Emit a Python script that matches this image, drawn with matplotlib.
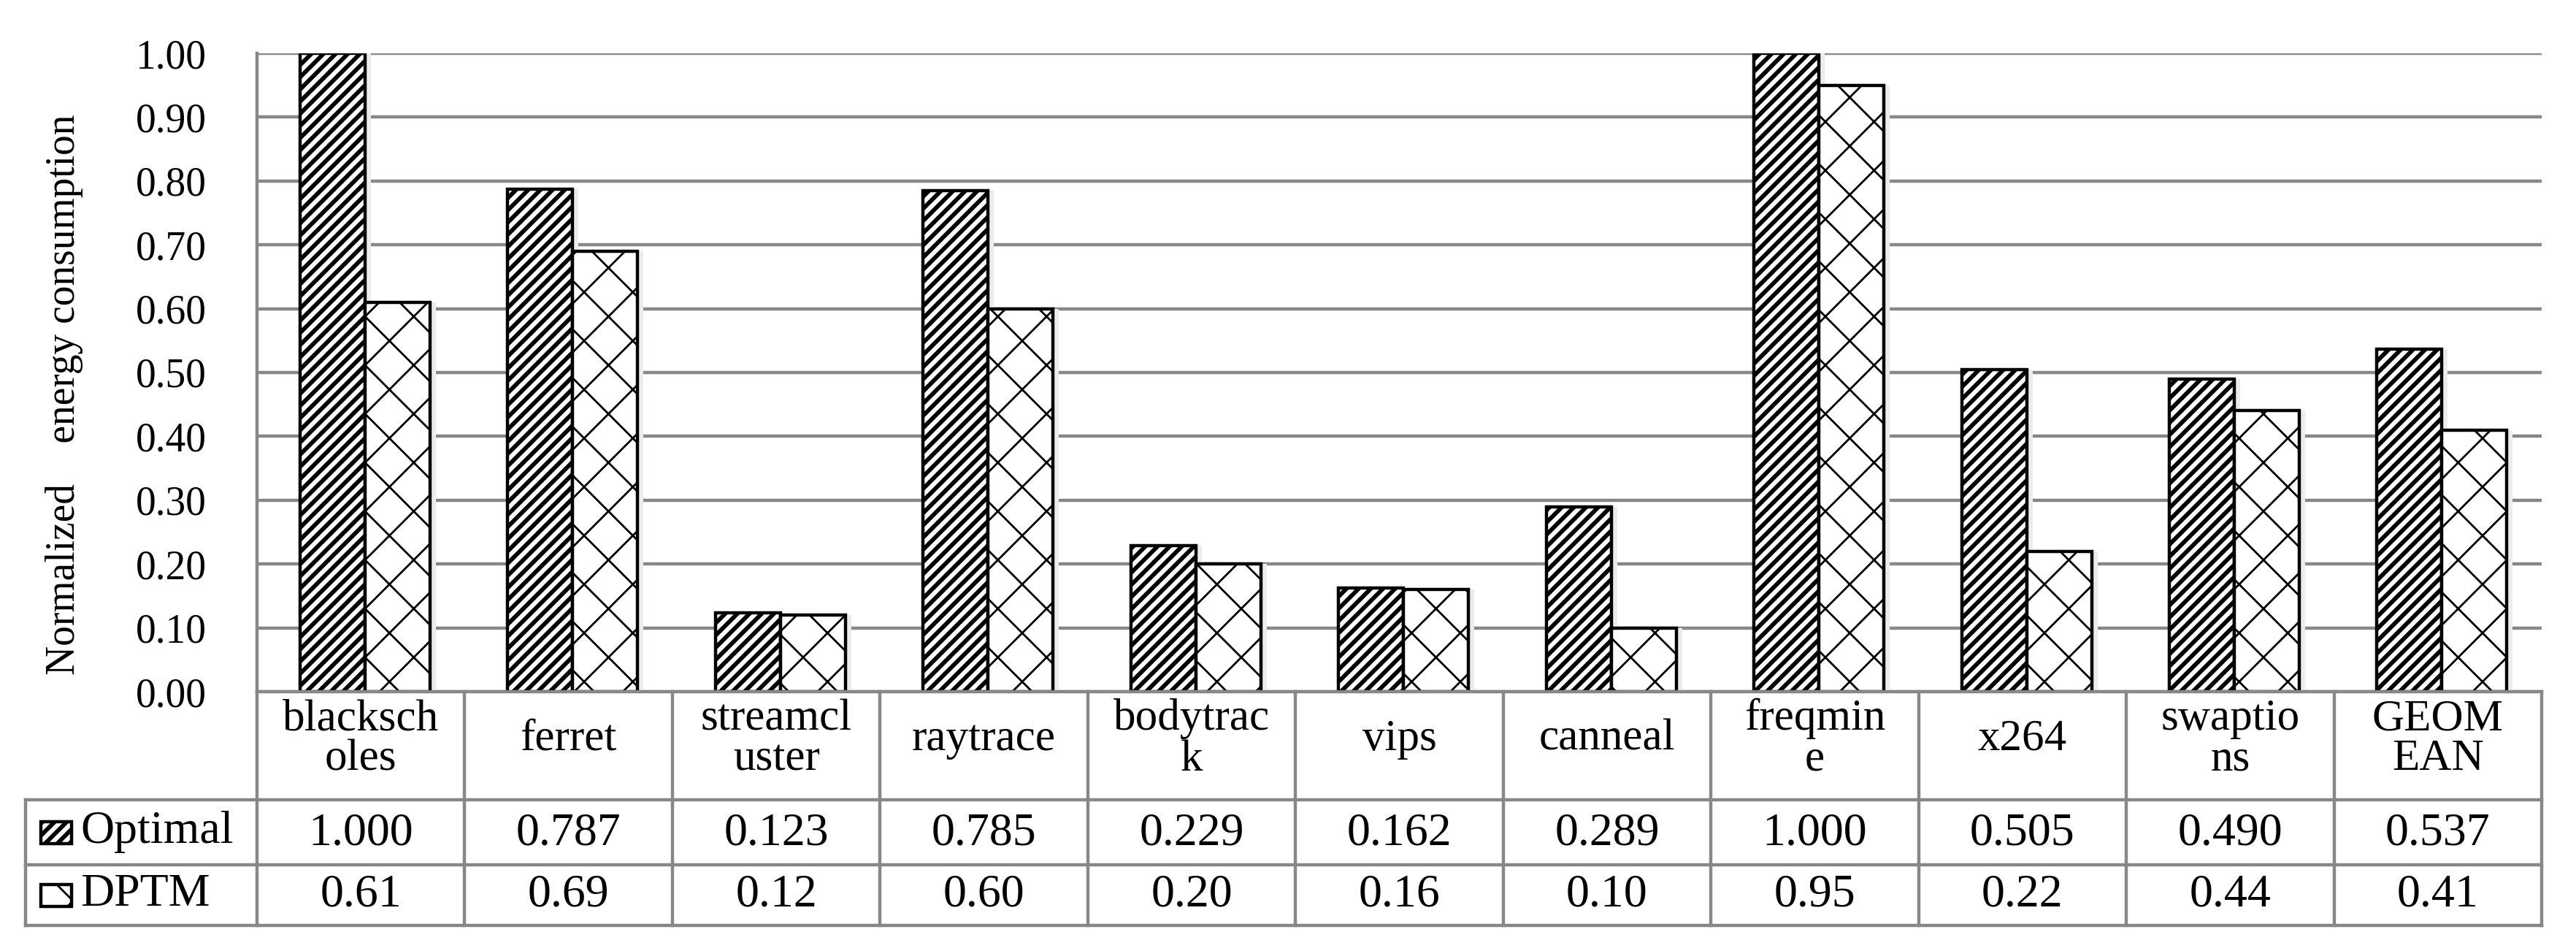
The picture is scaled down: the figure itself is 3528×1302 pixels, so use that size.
import matplotlib
matplotlib.use("Agg")
import matplotlib.pyplot as plt
from matplotlib.patches import Rectangle
import numpy as np

# ---------------- data ----------------
categories = ["blacksch\noles", "ferret", "streamcl\nuster", "raytrace", "bodytrac\nk",
              "vips", "canneal", "freqmin\ne", "x264", "swaptio\nns", "GEOM\nEAN"]
optimal = [1.000, 0.787, 0.123, 0.785, 0.229, 0.162, 0.289, 1.000, 0.505, 0.490, 0.537]
dptm = [0.61, 0.69, 0.12, 0.60, 0.20, 0.16, 0.10, 0.95, 0.22, 0.44, 0.41]
series_names = ["Optimal", "DPTM"]
yticks = [0.0, 0.1, 0.2, 0.3, 0.4, 0.5, 0.6, 0.7, 0.8, 0.9, 1.0]
ylabel = "Normalized    energy consumption"

# ---------------- style ----------------
W, H, DPI = 3528, 1302, 200
FONT = "Liberation Serif"
FS = 20
FS_HEAD = 22
FS_CELL = 23
GRID = "#878787"
GLW = 1.6
HATCH_OPT, HLW_OPT = "////", 2.1
HATCH_DP, HLW_DP = "x", 1.0

plt.rcParams["font.family"] = [FONT, "DejaVu Serif"]

fig = plt.figure(figsize=(W / DPI, H / DPI), dpi=DPI)
fig.patch.set_facecolor("white")

def fx(px):
    return px / W

def fy(py):
    return 1 - py / H

L, R, T, B = 352, 3481, 73, 947
ax = fig.add_axes([fx(L), fy(B), fx(R - L), (B - T) / H])
n = len(categories)
x = np.arange(n)
bw = 0.313
off = 0.02

ax.set_xlim(-0.5, n - 0.5)
ax.set_ylim(0, 1.0)
ax.set_yticks(yticks)
ax.set_yticklabels([f"{v:.2f}" for v in yticks], fontsize=FS)
ax.tick_params(axis="y", length=0, pad=25)
ax.set_xticks([])
for s in ["top", "right", "bottom"]:
    ax.spines[s].set_visible(False)
ax.spines["left"].set_color(GRID)
ax.spines["left"].set_linewidth(GLW)
ax.spines["left"].set_zorder(1)
ax.yaxis.grid(True, color=GRID, linewidth=GLW)
ax.set_axisbelow(True)

def make_bars(xs, vals, hatch, hlw):
    with plt.rc_context({"hatch.linewidth": hlw, "hatch.color": "black"}):
        # soft shadow
        ax.bar(xs + 0.028, vals, width=bw, color="#ececec", edgecolor="none", zorder=2)
        bars = ax.bar(xs, vals, width=bw, facecolor="white", edgecolor="black",
                      linewidth=1.6, hatch=hatch, zorder=3)
    for b in bars:
        if hasattr(b, "set_hatch_linewidth"):
            b.set_hatch_linewidth(hlw)
    return bars

make_bars(x - bw / 2 + off, optimal, HATCH_OPT, HLW_OPT)
make_bars(x + bw / 2 + off, dptm, HATCH_DP, HLW_DP)

fig.text(fx(88), fy(540), ylabel, rotation=90, ha="center", va="center", fontsize=FS)

# ---------------- data table ----------------
TL = 35
TB = 1267
r1, r2 = 1095, 1184
colw = (R - L) / n
left_cols = (L - TL) / colw
tab = fig.add_axes([fx(TL), fy(TB), fx(R - TL), (TB - B) / H])
tab.set_xlim(-0.5 - left_cols, n - 0.5)
tab.set_ylim(TB, B)
tab.axis("off")

x0 = -0.5 - left_cols
kw = dict(color=GRID, linewidth=GLW, clip_on=False, solid_capstyle="projecting")
tab.plot([-0.5, n - 0.5], [B, B], **kw)
for yy in (r1, r2, TB):
    tab.plot([x0, n - 0.5], [yy, yy], **kw)
for k in range(n + 1):
    tab.plot([k - 0.5, k - 0.5], [B, TB], **kw)
tab.plot([x0, x0], [r1, TB], **kw)

for i, c in enumerate(categories):
    tab.text(i, (B + r1) / 2 - 9, c, ha="center", va="center", fontsize=FS_HEAD, linespacing=1.0)
    tab.text(i, (r1 + r2) / 2 + 2, f"{optimal[i]:.3f}", ha="center", va="center", fontsize=FS_CELL)
    tab.text(i, (r2 + TB) / 2, f"{dptm[i]:.2f}", ha="center", va="center", fontsize=FS_CELL)

# legend keys inside the table
key_specs = [((r1 + r2) / 2, HATCH_OPT, HLW_OPT), ((r2 + TB) / 2, HATCH_DP, HLW_DP)]
for (yc, hatch, hlw), name in zip(key_specs, series_names):
    kx, kwd, kh = 56, 42, 30
    with plt.rc_context({"hatch.linewidth": hlw, "hatch.color": "black"}):
        rect = Rectangle((fx(kx), fy(yc + kh / 2)), fx(kwd), kh / H, transform=fig.transFigure,
                         facecolor="white", edgecolor="black", linewidth=1.6, hatch=hatch)
    if hasattr(rect, "set_hatch_linewidth"):
        rect.set_hatch_linewidth(hlw)
    fig.patches.append(rect)
    fig.text(fx(110), fy(yc), name, ha="left", va="center", fontsize=FS_CELL)

fig.savefig("out.png", dpi=DPI, facecolor="white")
